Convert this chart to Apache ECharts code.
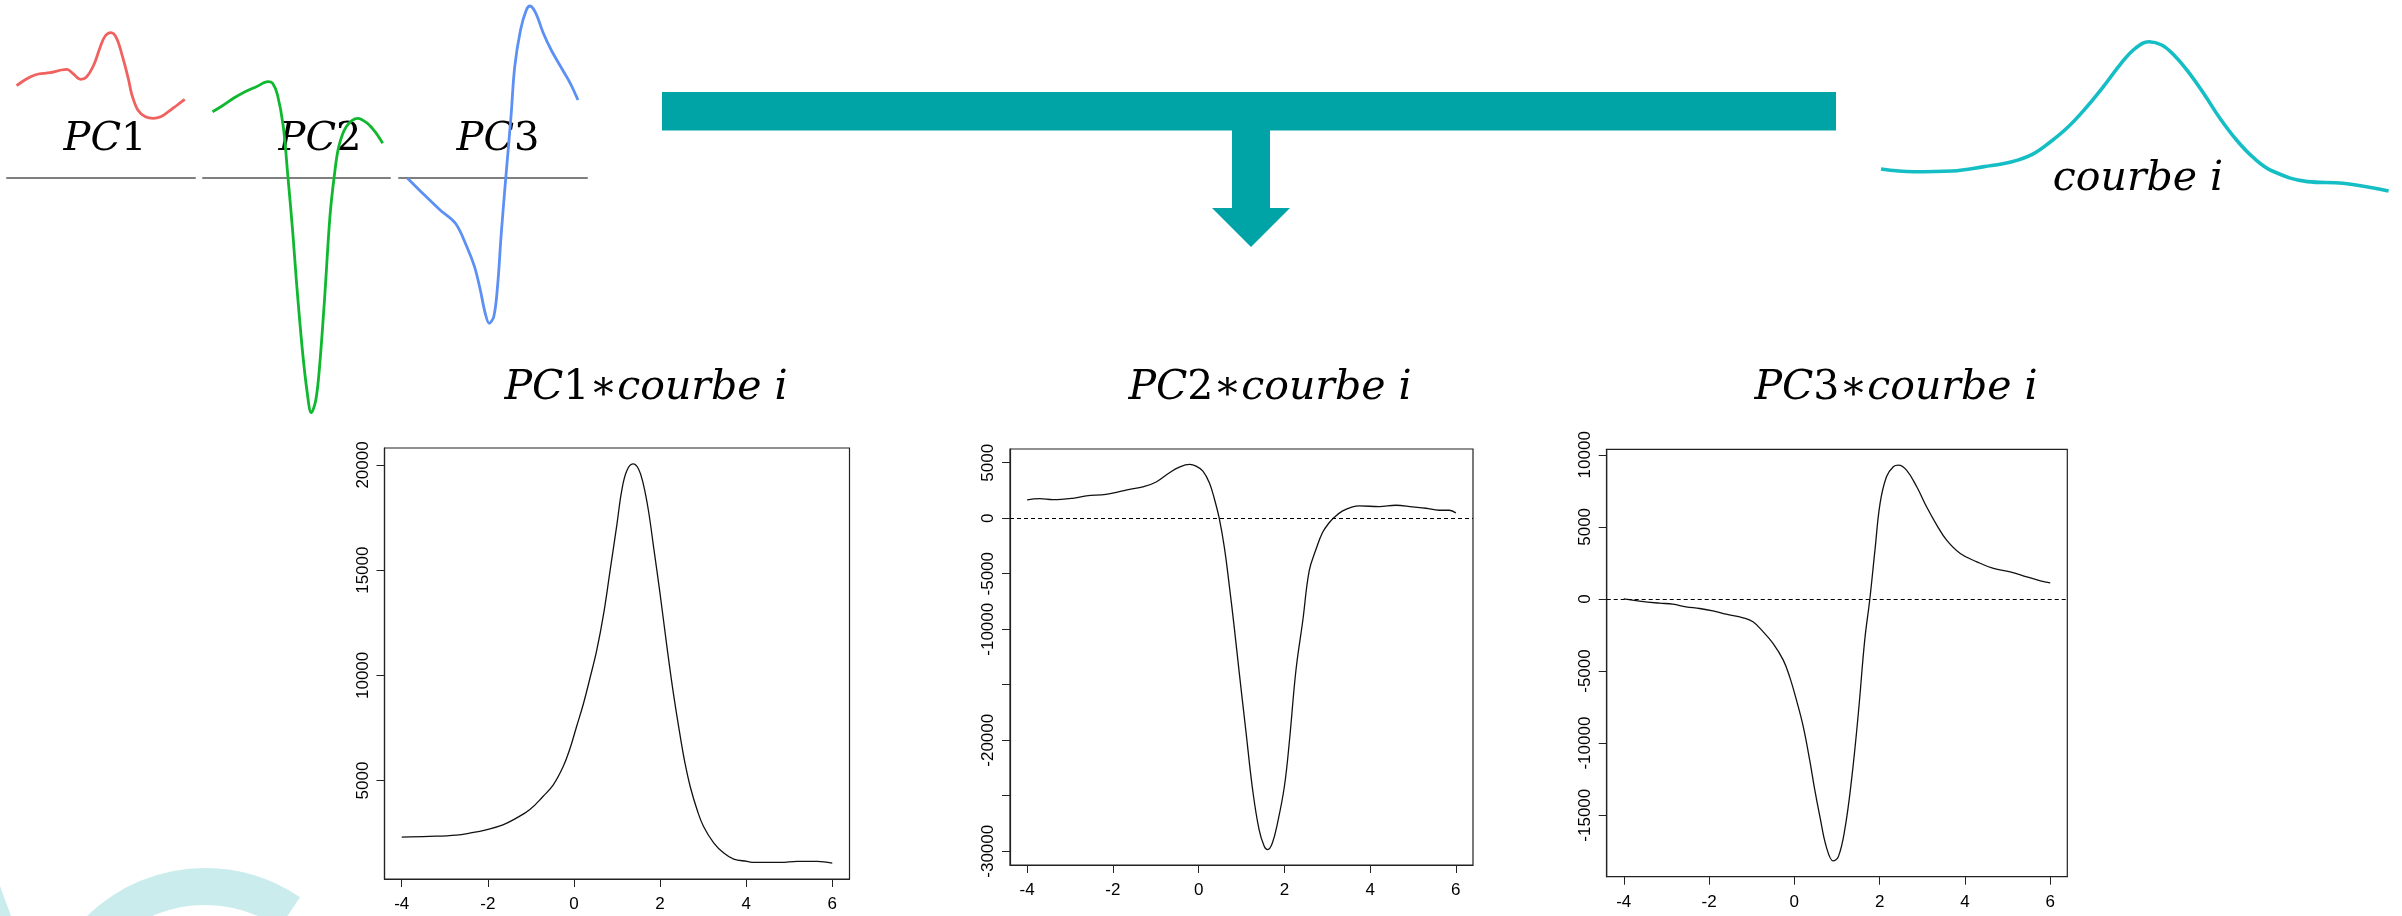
<!DOCTYPE html>
<html>
<head>
<meta charset="utf-8">
<script src="https://cdn.jsdelivr.net/npm/echarts@6/dist/echarts.min.js"></script>
<style>
  html, body { margin: 0; padding: 0; background: #ffffff; }
  #chart { width: 2402px; height: 916px; }
</style>
</head>
<body>
<div id="chart"></div>
<script>
// Principal component shapes, drawn as small sketches: [t, height above baseline]
const pc1Sketch = [
  [-4.00, 9.23], [-3.61, 9.70], [-3.16, 10.13], [-2.70, 10.40], [-2.02, 10.53], [-1.34, 10.80],
  [-1.00, 10.87], [-0.66, 10.47], [-0.20, 9.87], [0.14, 10.07], [0.59, 11.30], [0.98, 13.13],
  [1.27, 14.20], [1.61, 14.53], [1.95, 13.97], [2.30, 12.13], [2.64, 9.97], [2.86, 8.30],
  [3.21, 6.80], [3.66, 6.13], [4.12, 5.97], [4.57, 6.13], [5.03, 6.63], [5.48, 7.20], [6.00, 7.87]
];
const pc2Sketch = [
  [-4.00, 6.63], [-3.44, 7.20], [-2.77, 7.97], [-2.09, 8.63], [-1.42, 9.13], [-0.74, 9.63],
  [-0.47, 9.47], [-0.18, 8.30], [0.16, 5.13], [0.43, 0.13], [0.72, -5.53], [0.94, -10.53],
  [1.28, -17.20], [1.57, -21.53], [1.80, -23.47], [2.07, -22.20], [2.29, -18.87], [2.58, -12.20],
  [2.90, -3.87], [3.15, 0.13], [3.42, 3.13], [3.86, 5.13], [4.54, 5.97], [5.10, 5.47],
  [5.55, 4.63], [6.00, 3.47]
];
const pc3Sketch = [
  [-4.00, -0.03], [-3.21, -1.37], [-2.09, -3.20], [-1.19, -4.53], [-0.52, -6.87], [-0.07, -8.87],
  [0.27, -11.20], [0.56, -13.53], [0.79, -14.53], [1.06, -13.87], [1.28, -10.87], [1.50, -5.53],
  [1.77, 0.13], [2.07, 6.13], [2.29, 11.13], [2.63, 14.80], [2.97, 16.80], [3.19, 17.20],
  [3.53, 16.47], [3.97, 14.47], [4.43, 12.80], [5.10, 10.80], [5.55, 9.47], [6.00, 7.80]
];
// The curve being projected
const courbeI = [
  [-4.00, 0.153], [-3.36, 0.135], [-2.60, 0.140], [-1.97, 0.169], [-1.42, 0.202], [-1.01, 0.253],
  [-0.66, 0.335], [-0.31, 0.435], [0.03, 0.558], [0.38, 0.702], [0.73, 0.858], [1.01, 0.958],
  [1.28, 1.002], [1.53, 0.980], [1.77, 0.913], [2.05, 0.802], [2.38, 0.645], [2.67, 0.495],
  [3.02, 0.340], [3.36, 0.222], [3.71, 0.140], [4.40, 0.069], [5.10, 0.058], [6.00, 0.007]
];

// Products PCk * courbe i
const prodPC1 = [
  [-4.00, 2313], [-3.36, 2345], [-2.73, 2408], [-2.42, 2503], [-2.04, 2661], [-1.65, 2898],
  [-1.34, 3214], [-1.03, 3609], [-0.72, 4241], [-0.48, 4795], [-0.25, 5664], [-0.09, 6533],
  [0.06, 7560], [0.22, 8650], [0.37, 9850], [0.53, 11196], [0.69, 12935], [0.84, 14989],
  [1.00, 17202], [1.11, 18783], [1.23, 19731], [1.37, 20047], [1.50, 19810], [1.61, 19099],
  [1.73, 17835], [1.85, 16096], [2.00, 13883], [2.16, 11354], [2.31, 9141], [2.47, 7087],
  [2.58, 5822], [2.70, 4716], [2.86, 3609], [3.01, 2819], [3.25, 2029], [3.48, 1555],
  [3.71, 1270], [4.02, 1159], [4.18, 1111], [4.80, 1111], [5.19, 1159], [5.65, 1159], [6.00, 1080]
];
const prodPC2 = [
  [-4.00, 1650], [-3.71, 1769], [-3.40, 1679], [-2.94, 1799], [-2.62, 2009], [-2.16, 2158],
  [-1.85, 2397], [-1.61, 2607], [-1.30, 2816], [-0.99, 3265], [-0.68, 4103], [-0.45, 4611],
  [-0.21, 4850], [-0.06, 4701], [0.10, 4252], [0.25, 3205], [0.37, 1709], [0.48, 0],
  [0.60, -2628], [0.72, -6218], [0.83, -9808], [0.95, -13996], [1.10, -19082], [1.26, -24466],
  [1.41, -28056], [1.53, -29552], [1.61, -29851], [1.72, -29253], [1.84, -27458], [2.00, -24167],
  [2.12, -19979], [2.27, -13697], [2.43, -9210], [2.58, -4722], [2.74, -2778], [2.89, -1282],
  [3.05, -385], [3.16, 64], [3.36, 662], [3.59, 1021], [3.75, 1111], [4.21, 1051], [4.60, 1171],
  [4.99, 1021], [5.30, 902], [5.61, 722], [5.85, 722], [6.00, 483]
];
const prodPC3 = [
  [-4.00, 0], [-3.63, -153], [-3.16, -292], [-2.85, -361], [-2.54, -546], [-2.22, -662],
  [-1.91, -824], [-1.60, -1055], [-1.20, -1309], [-0.97, -1587], [-0.73, -2281], [-0.50, -3090],
  [-0.26, -4246], [-0.11, -5403], [0.05, -7022], [0.21, -8872], [0.36, -11185], [0.48, -13266],
  [0.60, -15116], [0.75, -17198], [0.91, -18169], [1.03, -17891], [1.18, -16041], [1.34, -12572],
  [1.50, -7947], [1.65, -2859], [1.77, 0], [1.89, 3386], [2.01, 6624], [2.16, 8474],
  [2.32, 9167], [2.44, 9283], [2.63, 8936], [2.87, 7780], [3.10, 6392], [3.34, 5120],
  [3.57, 4079], [3.89, 3154], [4.28, 2576], [4.67, 2114], [5.06, 1883], [5.45, 1536],
  [5.77, 1259], [6.00, 1120]
];

// Tick positions and labels
const xTicks = [-4, -2, 0, 2, 4, 6];
const pc1YTicks = [5000, 10000, 15000, 20000];
const pc2YTicks = [5000, 0, -5000, -10000, -15000, -20000, -25000, -30000];
const pc2YLabels = [5000, 0, -5000, -10000, -20000, -30000];
const pc3YTicks = [10000, 5000, 0, -5000, -10000, -15000];

// Colours; the lighter tones are where a sketch runs under a translucent label box
const RED = '#f0625f', RED_LIGHT = '#f8b8b6';
const GREEN = '#0fb82f', GREEN_LIGHT = '#8fdb9c';
const BLUE = '#5d90f4', BLUE_LIGHT = '#aac6f8';
const TEAL = '#00a4a7', CURVE = '#14bec4', WATERMARK = '#cbeced';

// R-style 4% padding around the data range
function padded(values) {
  const lo = Math.min(...values), hi = Math.max(...values), d = (hi - lo) * 0.04;
  return [lo - d, hi + d];
}

const chart = echarts.init(document.getElementById('chart'), null, { renderer: 'canvas' });

const sketchGrids = [
  { left: 7, top: 0, width: 188, height: 418, xr: [-4.57, 6.61] },
  { left: 203, top: 0, width: 187, height: 418, xr: [-4.56, 6.43] },
  { left: 399, top: 0, width: 188, height: 418, xr: [-4.50, 6.53] }
];
const plots = [
  { left: 384.5, top: 448, width: 465, height: 431, data: prodPC1, ticks: pc1YTicks, labels: pc1YTicks, zero: false },
  { left: 1010, top: 449, width: 463, height: 416, data: prodPC2, ticks: pc2YTicks, labels: pc2YLabels, zero: true },
  { left: 1606.7, top: 449.3, width: 460.6, height: 427.4, data: prodPC3, ticks: pc3YTicks, labels: pc3YTicks, zero: true }
];

const grid = [], xAxis = [], yAxis = [], series = [];

// sketches with their grey baselines
const sketchData = [pc1Sketch, pc2Sketch, pc3Sketch];
const sketchColor = [RED, GREEN, BLUE];
sketchGrids.forEach((g, i) => {
  grid.push({ left: g.left, top: g.top, width: g.width, height: g.height });
  xAxis.push({
    type: 'value', gridIndex: i, min: g.xr[0], max: g.xr[1],
    axisLine: { show: true, onZero: true, lineStyle: { color: '#7f7f7f', width: 2 } },
    axisTick: { show: false }, axisLabel: { show: false }, splitLine: { show: false }
  });
  yAxis.push({ type: 'value', gridIndex: i, min: -24, max: 17.8, show: false, splitLine: { show: false } });
  series.push({
    type: 'line', xAxisIndex: i, yAxisIndex: i, data: sketchData[i], smooth: 0.35,
    showSymbol: false, silent: true, z: 3,
    lineStyle: { color: sketchColor[i], width: 2.8 }
  });
});

// courbe i
grid.push({ left: 1881, top: 12, width: 507.6, height: 180 });
xAxis.push({ type: 'value', gridIndex: 3, min: -4, max: 6, show: false, splitLine: { show: false } });
yAxis.push({ type: 'value', gridIndex: 3, min: 0, max: 1.2, show: false, splitLine: { show: false } });
series.push({
  type: 'line', xAxisIndex: 3, yAxisIndex: 3, data: courbeI, smooth: 0.4,
  showSymbol: false, silent: true, lineStyle: { color: CURVE, width: 3.6 }
});

// the three product plots
plots.forEach((p, k) => {
  const gi = 4 + k;
  const xr = padded(p.data.map(d => d[0]));
  const yr = padded(p.data.map(d => d[1]));
  grid.push({
    left: p.left, top: p.top, width: p.width, height: p.height,
    show: true, borderColor: '#222', borderWidth: 1.2, backgroundColor: 'transparent'
  });
  xAxis.push({
    type: 'value', gridIndex: gi, min: xr[0], max: xr[1],
    axisLine: { show: true, onZero: false, lineStyle: { color: '#222', width: 1.2 } },
    axisTick: { show: true, length: 8, customValues: xTicks, lineStyle: { color: '#222' } },
    axisLabel: {
      customValues: xTicks, margin: 17, fontSize: 17, color: '#000',
      fontFamily: 'Liberation Sans', formatter: v => String(v)
    },
    splitLine: { show: false }
  });
  yAxis.push({
    type: 'value', gridIndex: gi, min: yr[0], max: yr[1],
    axisLine: { show: true, onZero: false, lineStyle: { color: '#222', width: 1.2 } },
    axisTick: { show: true, length: 8, customValues: p.ticks, lineStyle: { color: '#222' } },
    axisLabel: {
      customValues: p.labels, rotate: 90, margin: 13, fontSize: 17, color: '#000',
      fontFamily: 'Liberation Sans', formatter: v => String(v)
    },
    splitLine: { show: false }
  });
  const s = {
    type: 'line', xAxisIndex: gi, yAxisIndex: gi, data: p.data, smooth: 0.4,
    showSymbol: false, silent: true, lineStyle: { color: '#111', width: 1.3 }
  };
  if (p.zero) {
    s.markLine = {
      silent: true, symbol: 'none', label: { show: false },
      lineStyle: { color: '#000', width: 1.2, type: [4, 3] },
      data: [{ yAxis: 0 }]
    };
  }
  series.push(s);
});

const serifIt = { fontFamily: 'DejaVu Serif', fontStyle: 'italic', fontSize: 41, color: '#000' };
const serifUp = { fontFamily: 'DejaVu Serif', fontSize: 41, color: '#000' };
const labelIt = { fontFamily: 'DejaVu Serif', fontStyle: 'italic', fontSize: 40, color: '#000' };
const labelUp = { fontFamily: 'DejaVu Serif', fontSize: 40, color: '#000' };

function mathText(x, y, text, it, up) {
  return {
    type: 'text', x: x, y: y, z: 1,
    style: {
      text: text, align: 'center', verticalAlign: 'middle',
      rich: { it: it, up: up }
    }
  };
}

const graphic = [
  // watermark arc
  {
    type: 'sector', z: 0, silent: true,
    shape: { cx: 205, cy: 1037, r: 169, r0: 132, startAngle: Math.PI, endAngle: 5.31, clockwise: true },
    style: { fill: WATERMARK }
  },
  {
    type: 'polygon', z: 0, silent: true,
    shape: { points: [[0, 886], [11, 916], [0, 916]] },
    style: { fill: WATERMARK }
  },
  // T-shaped arrow
  { type: 'rect', z: 1, shape: { x: 662, y: 92, width: 1174, height: 38.5 }, style: { fill: TEAL } },
  { type: 'rect', z: 1, shape: { x: 1232, y: 120, width: 38, height: 90 }, style: { fill: TEAL } },
  { type: 'polygon', z: 1, shape: { points: [[1212, 208], [1290, 208], [1251, 247]] }, style: { fill: TEAL } },
  // sketch labels
  mathText(105, 140, '{it|PC}{up|1}', labelIt, labelUp),
  mathText(320, 140, '{it|PC}{up|2}', labelIt, labelUp),
  mathText(498, 140, '{it|PC}{up|3}', labelIt, labelUp),
  mathText(2138, 179, '{it|courbe i}', serifIt, serifUp),
  // plot titles
  mathText(646, 388.5, '{it|PC}{up|1∗}{it|courbe i}', serifIt, serifUp),
  mathText(1270, 388.5, '{it|PC}{up|2∗}{it|courbe i}', serifIt, serifUp),
  mathText(1896, 388.5, '{it|PC}{up|3∗}{it|courbe i}', serifIt, serifUp)
];

const visualMap = [
  {
    type: 'piecewise', show: false, seriesIndex: 0, dimension: 0,
    pieces: [{ lt: 2.86, color: RED }, { gte: 2.86, lt: 4.8, color: RED_LIGHT }, { gte: 4.8, color: RED }]
  },
  {
    type: 'piecewise', show: false, seriesIndex: 1, dimension: 0,
    pieces: [{ lt: -0.2, color: GREEN }, { gte: -0.2, lt: 0.43, color: GREEN_LIGHT },
             { gte: 0.43, lt: 3.15, color: GREEN }, { gte: 3.15, color: GREEN_LIGHT }]
  },
  {
    type: 'piecewise', show: false, seriesIndex: 2, dimension: 0,
    pieces: [{ lt: 1.77, color: BLUE }, { gte: 1.77, lt: 2.16, color: BLUE_LIGHT }, { gte: 2.16, color: BLUE }]
  }
];

chart.setOption({
  animation: false,
  backgroundColor: '#ffffff',
  grid: grid,
  xAxis: xAxis,
  yAxis: yAxis,
  visualMap: visualMap,
  series: series,
  graphic: graphic
});
</script>
</body>
</html>
